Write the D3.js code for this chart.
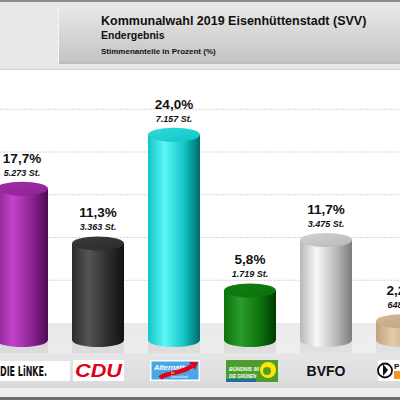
<!DOCTYPE html>
<html>
<head>
<meta charset="utf-8">
<script src="https://cdn.jsdelivr.net/npm/d3@7"></script>
<style>
  body { margin: 0; background: #fff; }
  svg { display: block; font-family: "Liberation Sans", Arial, sans-serif; }
</style>
</head>
<body>
<div id="chart"></div>
<script>
// data
var parties = ["DIE LINKE", "CDU", "AfD", "GRÜNE", "BVFO", "PIRATEN"];
var percents = [17.7, 11.3, 24.0, 5.8, 11.7, 2.2];
var votes = [5273, 3363, 7157, 1719, 3475, 648];
var gridValues = [0, 5, 10, 15, 20, 25];

// cylinder colours: [left, highlight, right edge, top face]
var palette = {
  "DIE LINKE": ["#8c2292", "#c244ca", "#4c0b52", "#a22eaa"],
  "CDU":       ["#2c2c2c", "#555555", "#121212", "#3a3a3a"],
  "AfD":       ["#12c4c4", "#5cf8f8", "#006a6a", "#2edcdc"],
  "GRÜNE":     ["#0b720b", "#2a9c2a", "#023a02", "#137c13"],
  "BVFO":      ["#b8b8b8", "#f8f8f8", "#7c7c7c", "#d2d2d2"],
  "PIRATEN":   ["#c0a080", "#e4cca8", "#8a6a4a", "#d4b898"]
};

var svgWidth = 400;
var svgHeight = 400;

var de = d3.formatLocale({decimal: ",", thousands: ".", grouping: [3], currency: ["", "€"]});
var fmtPct = de.format(",.1f");
var fmtVotes = de.format(",d");

var data = parties.map(function(p, i) {
  return {party: p, pct: percents[i], votes: votes[i]};
});

var svg = d3.select("#chart")
  .append("svg")
  .attr("width", svgWidth)
  .attr("height", svgHeight);

var defs = svg.append("defs");

// scales
var xScale = d3.scalePoint()
  .domain(parties)
  .range([22, 402]);

var yScale = d3.scaleLinear()
  .domain([0, 25])
  .range([340, 340 - 25 * 8.55]);

var barRx = 26;
var barRy = 7;
var wallShift = -17; // back wall sits a bit higher than the front plane

// ---------- header ----------
svg.append("rect").attr("x", 0).attr("y", 0).attr("width", 400).attr("height", 70).attr("fill", "#e8e8e8");
svg.append("rect").attr("x", 0).attr("y", 0).attr("width", 400).attr("height", 2).attr("fill", "#8c8c8c");
svg.append("rect").attr("x", 0).attr("y", 69).attr("width", 400).attr("height", 1).attr("fill", "#d2d2d2");

var headGrad = defs.append("linearGradient").attr("id", "headGrad")
  .attr("x1", 0).attr("y1", 0).attr("x2", 0).attr("y2", 1);
headGrad.append("stop").attr("offset", "0%").attr("stop-color", "#e8e8e8");
headGrad.append("stop").attr("offset", "100%").attr("stop-color", "#c4c4c4");

svg.append("rect").attr("x", 59).attr("y", 8).attr("width", 345).attr("height", 56).attr("fill", "#bdbdbd");
svg.append("rect").attr("x", 58).attr("y", 7).attr("width", 345).attr("height", 55).attr("fill", "url(#headGrad)");
svg.append("rect").attr("x", 58).attr("y", 7).attr("width", 1).attr("height", 55).attr("fill", "#f6f6f6");

svg.append("text").attr("x", 101).attr("y", 25)
  .attr("font-size", "12.5px").attr("font-weight", "bold").attr("fill", "#111")
  .text("Kommunalwahl 2019 Eisenhüttenstadt (SVV)");
svg.append("text").attr("x", 101).attr("y", 39)
  .attr("font-size", "10.5px").attr("font-weight", "bold").attr("fill", "#111")
  .text("Endergebnis");
svg.append("text").attr("x", 101).attr("y", 54)
  .attr("font-size", "8px").attr("font-weight", "bold").attr("fill", "#111")
  .text("Stimmenanteile in Prozent (%)");

// ---------- back wall gridlines ----------
svg.append("g").selectAll("line")
  .data(gridValues.filter(function(v) { return v > 0; }))
  .enter().append("line")
  .attr("x1", 0).attr("x2", 400)
  .attr("y1", function(v) { return yScale(v) + wallShift; })
  .attr("y2", function(v) { return yScale(v) + wallShift; })
  .attr("stroke", "#d6d6d6")
  .attr("stroke-width", 1)
  .attr("stroke-dasharray", "2,1");

// ---------- floor ----------
var floorTop = yScale(0) + wallShift;
var floorBottom = 353;

var floorGrad = defs.append("linearGradient").attr("id", "floorGrad")
  .attr("x1", 0).attr("y1", 0).attr("x2", 1).attr("y2", 1);
floorGrad.append("stop").attr("offset", "0%").attr("stop-color", "#d4d4d4");
floorGrad.append("stop").attr("offset", "100%").attr("stop-color", "#e2e2e2");

svg.append("rect").attr("x", 0).attr("y", floorTop)
  .attr("width", 400).attr("height", floorBottom - floorTop)
  .attr("fill", "url(#floorGrad)");

// light gaps between the cylinders
svg.append("g").selectAll("rect")
  .data(parties.slice(0, -1))
  .enter().append("rect")
  .attr("x", function(p) { return xScale(p) + barRx; })
  .attr("y", floorTop)
  .attr("width", xScale.step() - 2 * barRx)
  .attr("height", floorBottom - floorTop)
  .attr("fill", "#fafafa")
  .attr("opacity", 0.55);

// ---------- label band ----------
var bandGrad = defs.append("linearGradient").attr("id", "bandGrad")
  .attr("x1", 0).attr("y1", 0).attr("x2", 0).attr("y2", 1);
bandGrad.append("stop").attr("offset", "0%").attr("stop-color", "#e6e6e6");
bandGrad.append("stop").attr("offset", "100%").attr("stop-color", "#dadada");

svg.append("rect").attr("x", 0).attr("y", floorBottom).attr("width", 400).attr("height", 35).attr("fill", "url(#bandGrad)");
svg.append("rect").attr("x", 0).attr("y", 388).attr("width", 400).attr("height", 9).attr("fill", "#efefef");
svg.append("rect").attr("x", 0).attr("y", 397).attr("width", 400).attr("height", 3).attr("fill", "#6e6e6e");

// ---------- cylinders ----------
parties.forEach(function(p, i) {
  var c = palette[p];
  var g = defs.append("linearGradient").attr("id", "body" + i)
    .attr("x1", 0).attr("y1", 0).attr("x2", 1).attr("y2", 0);
  g.append("stop").attr("offset", "0%").attr("stop-color", c[0]);
  g.append("stop").attr("offset", "32%").attr("stop-color", c[1]);
  g.append("stop").attr("offset", "70%").attr("stop-color", c[0]);
  g.append("stop").attr("offset", "100%").attr("stop-color", c[2]);
  var t = defs.append("linearGradient").attr("id", "top" + i)
    .attr("x1", 0).attr("y1", 0).attr("x2", 1).attr("y2", 1);
  t.append("stop").attr("offset", "0%").attr("stop-color", c[3]);
  t.append("stop").attr("offset", "100%").attr("stop-color", c[0]);
});

var bars = svg.append("g").selectAll("g.bar")
  .data(data)
  .enter().append("g")
  .attr("class", "bar");

bars.append("path")
  .attr("d", function(d) {
    var cx = xScale(d.party), ty = yScale(d.pct), by = yScale(0);
    return "M" + (cx - barRx) + "," + ty +
      " L" + (cx - barRx) + "," + by +
      " A" + barRx + "," + barRy + " 0 0 0 " + (cx + barRx) + "," + by +
      " L" + (cx + barRx) + "," + ty + " Z";
  })
  .attr("fill", function(d, i) { return "url(#body" + i + ")"; });

bars.append("ellipse")
  .attr("cx", function(d) { return xScale(d.party); })
  .attr("cy", function(d) { return yScale(d.pct); })
  .attr("rx", barRx)
  .attr("ry", barRy)
  .attr("fill", function(d, i) { return "url(#top" + i + ")"; });

// value labels
bars.append("text")
  .attr("x", function(d) { return xScale(d.party); })
  .attr("y", function(d) { return yScale(d.pct) - 26; })
  .attr("text-anchor", "middle")
  .attr("font-size", "13.5px")
  .attr("font-weight", "bold")
  .attr("fill", "#111")
  .text(function(d) { return fmtPct(d.pct) + "%"; });

bars.append("text")
  .attr("x", function(d) { return xScale(d.party); })
  .attr("y", function(d) { return yScale(d.pct) - 13; })
  .attr("text-anchor", "middle")
  .attr("font-size", "9px")
  .attr("font-weight", "bold")
  .attr("font-style", "italic")
  .attr("fill", "#111")
  .text(function(d) { return fmtVotes(d.votes) + " St."; });

// ---------- party logos as category labels ----------
var logos = svg.append("g").selectAll("g.logo")
  .data(parties)
  .enter().append("g")
  .attr("class", "logo")
  .attr("transform", function(p) { return "translate(" + xScale(p) + ",0)"; });

logos.each(function(p) {
  var g = d3.select(this);
  if (p === "DIE LINKE") {
    g.append("rect").attr("x", -26).attr("y", 361).attr("width", 74).attr("height", 20).attr("fill", "#fff");
    g.append("text").attr("x", -22).attr("y", 375.5)
      .attr("font-family", "'Liberation Sans Narrow', 'DejaVu Sans Condensed', sans-serif")
      .attr("font-size", "14px").attr("font-weight", "bold").attr("fill", "#111")
      .attr("textLength", 47).attr("lengthAdjust", "spacingAndGlyphs")
      .text("DIE LiNKE.");
  } else if (p === "CDU") {
    g.append("rect").attr("x", -25).attr("y", 360).attr("width", 51).attr("height", 21).attr("fill", "#fff");
    g.append("text").attr("x", -23).attr("y", 377)
      .attr("font-size", "19px").attr("font-weight", "bold").attr("font-style", "italic")
      .attr("fill", "#e2001a")
      .attr("textLength", 47).attr("lengthAdjust", "spacingAndGlyphs")
      .text("CDU");
  } else if (p === "AfD") {
    g.append("rect").attr("x", -24).attr("y", 360).attr("width", 50).attr("height", 21).attr("fill", "#fff");
    g.append("rect").attr("x", -22.5).attr("y", 361.5).attr("width", 47).attr("height", 18).attr("fill", "#48a8e6");
    g.append("text").attr("x", -20).attr("y", 369.5)
      .attr("font-size", "8px").attr("font-weight", "bold").attr("font-style", "italic")
      .attr("fill", "#fff")
      .attr("textLength", 38).attr("lengthAdjust", "spacingAndGlyphs")
      .text("Alternative");
    g.append("path")
      .attr("d", "M-14,378 C-8,372 8,374 18,366")
      .attr("fill", "none").attr("stroke", "#e3001b").attr("stroke-width", 4.5);
    g.append("path")
      .attr("d", "M15,362 L24,362 L21,370 Z")
      .attr("fill", "#e3001b");
    g.append("text").attr("x", -3).attr("y", 374).attr("font-size", "3px").attr("fill", "#fff").text("für");
    g.append("text").attr("x", -3).attr("y", 378).attr("font-size", "3px").attr("fill", "#fff").text("Deutschland");
  } else if (p === "GRÜNE") {
    g.append("rect").attr("x", -24).attr("y", 360).attr("width", 52).attr("height", 22).attr("fill", "#4d9c2e");
    g.append("rect").attr("x", -24).attr("y", 379).attr("width", 30).attr("height", 3).attr("fill", "#1e6fa8");
    g.append("text").attr("x", -21).attr("y", 371)
      .attr("font-size", "6px").attr("font-weight", "bold").attr("font-style", "italic").attr("fill", "#fff")
      .attr("textLength", 30).attr("lengthAdjust", "spacingAndGlyphs")
      .text("BÜNDNIS 90");
    g.append("text").attr("x", -21).attr("y", 378)
      .attr("font-size", "6px").attr("font-weight", "bold").attr("font-style", "italic").attr("fill", "#fff")
      .attr("textLength", 27).attr("lengthAdjust", "spacingAndGlyphs")
      .text("DIE GRÜNEN");
    g.append("circle").attr("cx", 18).attr("cy", 370).attr("r", 8).attr("fill", "#ffe500");
    g.append("circle").attr("cx", 17).attr("cy", 371).attr("r", 4).attr("fill", "#4d9c2e");
  } else if (p === "BVFO") {
    g.append("text").attr("x", 0).attr("y", 375.5)
      .attr("text-anchor", "middle")
      .attr("font-size", "14px").attr("font-weight", "bold").attr("fill", "#111")
      .text("BVFO");
  } else if (p === "PIRATEN") {
    g.append("rect").attr("x", -24).attr("y", 360).attr("width", 50).attr("height", 21).attr("fill", "#fff");
    g.append("circle").attr("cx", -17).attr("cy", 370.5).attr("r", 7).attr("fill", "#fff").attr("stroke", "#111").attr("stroke-width", 1.8);
    g.append("path").attr("d", "M-19,364 L-14,370 L-19,376 Z").attr("fill", "#111");
    g.append("rect").attr("x", -8).attr("y", 371).attr("width", 12).attr("height", 8).attr("fill", "#f7941d");
    g.append("text").attr("x", -8).attr("y", 369).attr("font-size", "8px").attr("font-weight", "bold").attr("fill", "#111").text("P");
  }
});
</script>
</body>
</html>
